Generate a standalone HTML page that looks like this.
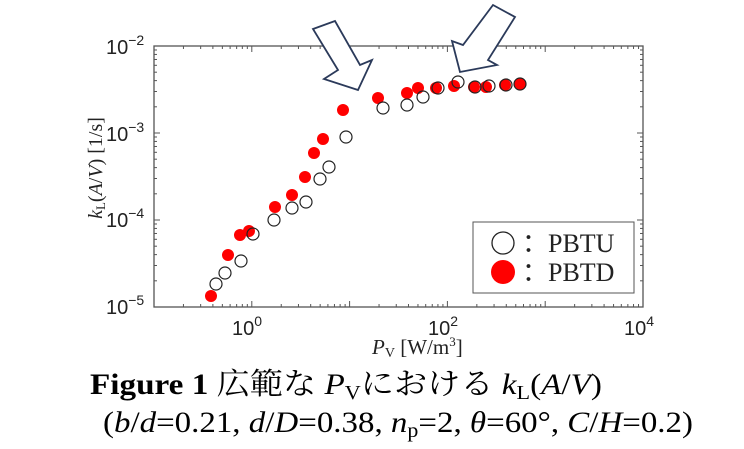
<!DOCTYPE html>
<html><head><meta charset="utf-8"><style>
body{margin:0;background:#fff;width:744px;height:449px;overflow:hidden}
svg{display:block}
.t{font-family:"Liberation Sans",sans-serif;font-size:20px;fill:#222}
.s{font-family:"Liberation Serif",serif}
</style></head><body>
<svg id="g" width="744" height="449" xmlns="http://www.w3.org/2000/svg">
<rect x="154" y="46" width="489" height="261" fill="none" stroke="#555" stroke-width="1.3"/>
<g id="ticks" stroke="#555" stroke-width="1"></g>
<g class="t">
<text x="106" y="54">10<tspan dy="-9" font-size="14">−2</tspan></text>
<text x="106" y="141">10<tspan dy="-9" font-size="14">−3</tspan></text>
<text x="106" y="227">10<tspan dy="-9" font-size="14">−4</tspan></text>
<text x="106" y="314">10<tspan dy="-9" font-size="14">−5</tspan></text>
<text x="232" y="335">10<tspan dy="-9" font-size="14">0</tspan></text>
<text x="428" y="335">10<tspan dy="-9" font-size="14">2</tspan></text>
<text x="624" y="335">10<tspan dy="-9" font-size="14">4</tspan></text>
</g>
<text class="s" x="372" y="354" font-size="21" fill="#222"><tspan font-style="italic">P</tspan><tspan font-size="14" dy="3">V</tspan><tspan dy="-3"> [W/m</tspan><tspan font-size="13" dy="-8">3</tspan><tspan dy="8">]</tspan></text>
<text class="s" transform="translate(102,168) rotate(-90)" text-anchor="middle" font-size="20" fill="#222"><tspan font-style="italic">k</tspan><tspan font-size="13" dy="3">L</tspan><tspan dy="-3">(</tspan><tspan font-style="italic">A</tspan>/<tspan font-style="italic">V</tspan>) [1/s]</text>
<g id="pts"></g>
<rect x="473" y="222" width="161" height="71" fill="#fff" stroke="#555" stroke-width="1"/>
<circle cx="503" cy="243" r="11" fill="#fff" stroke="#222" stroke-width="1.3"/>
<circle cx="503" cy="272" r="12" fill="#f00"/>
<text class="s" x="522" y="252" font-size="26" fill="#222">：PBTU</text>
<text class="s" x="522" y="281" font-size="26" fill="#222">：PBTD</text>
<polygon points="313,29 335,21 360,65 372,60 358,90 324,79 338,70" fill="#fff" stroke="#2b3a5a" stroke-width="1.8"/>
<polygon points="460,72 452,41 463,45 493,5 515,17 488,60 497,65" fill="#fff" stroke="#2b3a5a" stroke-width="1.8"/>
<text class="s" x="90" y="394" font-size="30" fill="#000" textLength="512" lengthAdjust="spacingAndGlyphs"><tspan font-weight="bold">Figure 1</tspan><tspan font-family="'Liberation Serif','Noto Serif CJK SC',serif">  広範な </tspan><tspan font-style="italic">P</tspan><tspan font-size="20" dy="5">V</tspan><tspan dy="-5" font-family="'Liberation Serif','Noto Serif CJK SC',serif">における </tspan><tspan font-style="italic">k</tspan><tspan font-size="20" dy="5">L</tspan><tspan dy="-5">(</tspan><tspan font-style="italic">A</tspan>/<tspan font-style="italic">V</tspan>)</text>
<text class="s" x="103" y="432" font-size="30" fill="#000" textLength="590" lengthAdjust="spacingAndGlyphs">(<tspan font-style="italic">b</tspan>/<tspan font-style="italic">d</tspan>=0.21, <tspan font-style="italic">d</tspan>/<tspan font-style="italic">D</tspan>=0.38, <tspan font-style="italic">n</tspan><tspan font-size="20" dy="5">p</tspan><tspan dy="-5">=2, </tspan><tspan font-style="italic">θ</tspan>=60°, <tspan font-style="italic">C</tspan>/<tspan font-style="italic">H</tspan>=0.2)</text>
</svg>
<script>
var tk=document.getElementById("ticks"),p="";
function ln(a,b,c,d){p+='<line x1="'+a+'" y1="'+b+'" x2="'+c+'" y2="'+d+'"/>';}
var L=154,R=643,T=46,B=307,dx=(R-L)/5,dy=(B-T)/3;
for(var d=0;d<5;d++)for(var m=1;m<10;m++){var x=L+dx*(d+Math.log10(m));var s=m==1?6:3;if(d==0&&m==1)continue;ln(x,B,x,B-s);ln(x,T,x,T+s);}
for(var d=0;d<3;d++)for(var m=1;m<10;m++){var y=B-dy*(d+Math.log10(m));var s=m==1?6:3;if(d==0&&m==1)continue;ln(L,y,L+s,y);ln(R,y,R-s,y);}
tk.innerHTML=p;
var op=[[216,284],[225,273],[241,261],[253,234],[274,220],[292,208],[306,202],[320,179],[329,167],[346,137],[383,108],[407,105],[423,97],[438,88],[458,82],[475,87],[489,86],[506,85],[520,84]];
var fi=[[211,296],[228,255],[240,235],[249,231],[275,207],[292,195],[305,177],[314,153],[323,139],[343,110],[378,98],[407,93],[418,88],[436,88],[454,86],[474,87],[486,87],[505,85],[520,84]];
var q="";
fi.forEach(function(c){q+='<circle cx="'+c[0]+'" cy="'+c[1]+'" r="6" fill="#f00"/>';});
op.forEach(function(c){q+='<circle cx="'+c[0]+'" cy="'+c[1]+'" r="6" fill="none" stroke="#222" stroke-width="1.2"/>';});
document.getElementById("pts").innerHTML=q;
</script>
</body></html>
